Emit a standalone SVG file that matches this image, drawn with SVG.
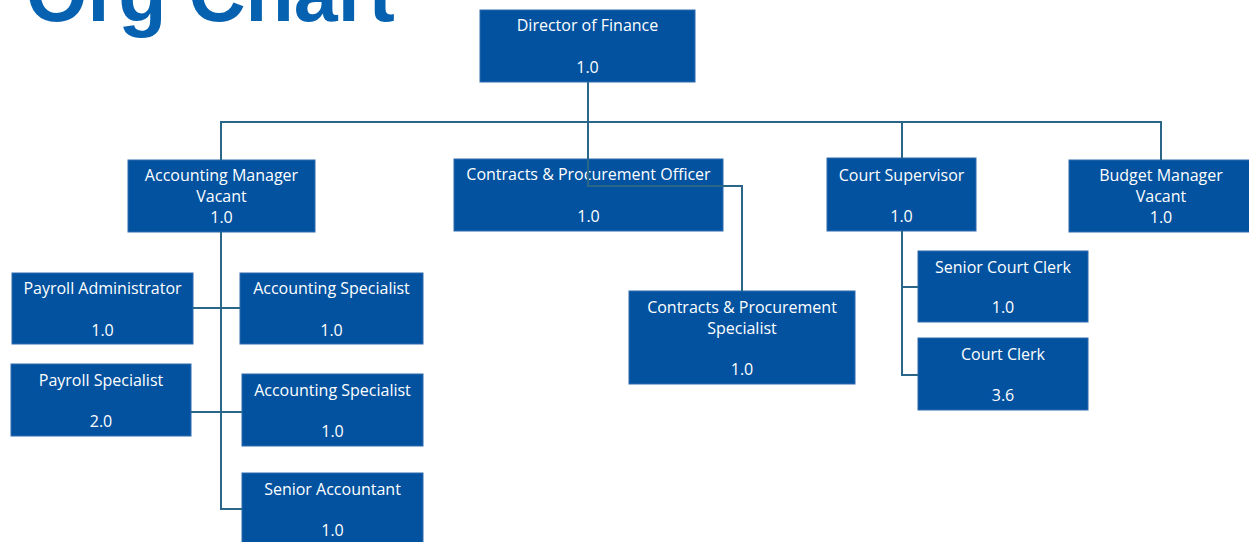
<svg xmlns="http://www.w3.org/2000/svg" width="1249" height="542" viewBox="0 0 1249 542">
<style>
.box{fill:#02529F;stroke:#2F6BB0;stroke-width:1}
.t{font-family:"Open Sans","Noto Sans",sans-serif;font-size:16px;fill:#FFFFFF;text-anchor:middle}
.c{fill:none;stroke:#2A6688;stroke-width:2}
.title{font-family:"Liberation Sans",Arial,sans-serif;font-weight:bold;font-size:79px;fill:#0662B0}
</style>
<rect width="1249" height="542" fill="#FFFFFF"/>
<text class="title" x="26" y="21">Org Chart</text>
<g id="director">
<rect class="box" x="480" y="10" width="215" height="72"/>
<text class="t" x="587.5" y="31">Director of Finance</text>
<text class="t" x="587.5" y="73">1.0</text>
</g>
<g id="accounting-manager">
<rect class="box" x="128" y="160" width="187" height="72"/>
<text class="t" x="221.5" y="181">Accounting Manager</text>
<text class="t" x="221.5" y="202">Vacant</text>
<text class="t" x="221.5" y="223">1.0</text>
</g>
<g id="cp-officer">
<rect class="box" x="454" y="159" width="269" height="72"/>
<text class="t" x="588.5" y="180">Contracts &amp; Procurement Officer</text>
<text class="t" x="588.5" y="222">1.0</text>
</g>
<g id="court-supervisor">
<rect class="box" x="827" y="158" width="149" height="73"/>
<text class="t" x="901.5" y="181">Court Supervisor</text>
<text class="t" x="901.5" y="222">1.0</text>
</g>
<g id="budget-manager">
<rect class="box" x="1069" y="160" width="185" height="72"/>
<text class="t" x="1161" y="181">Budget Manager</text>
<text class="t" x="1161" y="202">Vacant</text>
<text class="t" x="1161" y="223">1.0</text>
</g>
<g id="payroll-administrator">
<rect class="box" x="12" y="273" width="181" height="71"/>
<text class="t" x="102.5" y="294">Payroll Administrator</text>
<text class="t" x="102.5" y="336">1.0</text>
</g>
<g id="accounting-specialist-1">
<rect class="box" x="240" y="273" width="183" height="71"/>
<text class="t" x="331.5" y="294">Accounting Specialist</text>
<text class="t" x="331.5" y="336">1.0</text>
</g>
<g id="payroll-specialist">
<rect class="box" x="11" y="364" width="180" height="72"/>
<text class="t" x="101" y="386">Payroll Specialist</text>
<text class="t" x="101" y="427">2.0</text>
</g>
<g id="accounting-specialist-2">
<rect class="box" x="242" y="374" width="181" height="72"/>
<text class="t" x="332.5" y="396">Accounting Specialist</text>
<text class="t" x="332.5" y="437">1.0</text>
</g>
<g id="senior-accountant">
<rect class="box" x="242" y="473" width="181" height="75"/>
<text class="t" x="332.5" y="495">Senior Accountant</text>
<text class="t" x="332.5" y="536">1.0</text>
</g>
<g id="cp-specialist">
<rect class="box" x="629" y="291" width="226" height="93"/>
<text class="t" x="742" y="313">Contracts &amp; Procurement</text>
<text class="t" x="742" y="334">Specialist</text>
<text class="t" x="742" y="375">1.0</text>
</g>
<g id="senior-court-clerk">
<rect class="box" x="918" y="251" width="170" height="71"/>
<text class="t" x="1003" y="273">Senior Court Clerk</text>
<text class="t" x="1003" y="313">1.0</text>
</g>
<g id="court-clerk">
<rect class="box" x="918" y="338" width="170" height="72"/>
<text class="t" x="1003" y="360">Court Clerk</text>
<text class="t" x="1003" y="401">3.6</text>
</g>
<g id="connectors">
<path class="c" d="M588,82 V186 H742 V291"/>
<path class="c" d="M221,160 V122 H1161 V160"/>
<path class="c" d="M902,122 V158"/>
<path class="c" d="M221,232 V509 H242"/>
<path class="c" d="M193,308 H240"/>
<path class="c" d="M191,412 H242"/>
<path class="c" d="M902,231 V375 H918"/>
<path class="c" d="M902,287 H918"/>
</g>
</svg>
